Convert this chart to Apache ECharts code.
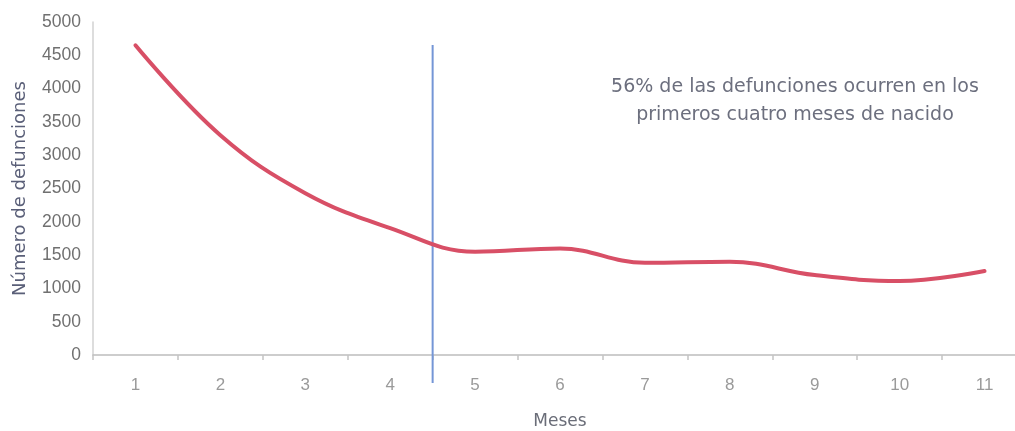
<!DOCTYPE html>
<html>
<head>
<meta charset="utf-8">
<script src="https://cdn.jsdelivr.net/npm/echarts@6/dist/echarts.min.js"></script>
<style>
  html, body { margin: 0; padding: 0; background: #ffffff; }
  #chart { width: 1015px; height: 431px; }
</style>
</head>
<body>
<div id="chart"></div>
<script>
// ---- data ----
const months = ['1', '2', '3', '4', '5', '6', '7', '8', '9', '10', '11'];
const deaths = [4650, 3300, 2430, 1905, 1550, 1600, 1385, 1400, 1200, 1110, 1260];
const yMin = 0;
const yMax = 5000;
const yStep = 500;
// divider between month 4 and 5 (x in month units, y in deaths)
const dividerX = 4.5;
const dividerFrom = 4655;
const dividerTo = -420;
const noteLines = ['56% de las defunciones ocurren en los', 'primeros cuatro meses de nacido'];
const yTitle = 'Número de defunciones';
const xTitle = 'Meses';

const FONT = '"Liberation Sans", Arial, sans-serif';
const WIDE = '"DejaVu Sans", "Liberation Sans", sans-serif';

const chart = echarts.init(document.getElementById('chart'), null, { renderer: 'canvas' });
chart.setOption({
  animation: false,
  backgroundColor: '#ffffff',
  grid: {
    left: 93, right: -12, top: 22, bottom: 76,
    containLabel: false,
    outerBoundsMode: 'none'
  },
  xAxis: [
    {
      type: 'category',
      data: months,
      boundaryGap: true,
      name: xTitle,
      nameLocation: 'middle',
      nameGap: 58,
      nameTextStyle: { color: '#6a6d78', fontSize: 17, fontFamily: WIDE },
      axisLine: { show: true, lineStyle: { color: '#bdbdbd', width: 1.5 } },
      axisTick: { show: true, length: 5, lineStyle: { color: '#c4c4c4', width: 1.5 } },
      axisLabel: { color: '#9a9a9a', fontSize: 17, fontFamily: FONT, margin: 22 },
      splitLine: { show: false }
    },
    {
      type: 'value',
      min: 0.5,
      max: months.length + 0.5,
      show: false
    }
  ],
  yAxis: {
    type: 'value',
    min: yMin,
    max: yMax,
    interval: yStep,
    name: yTitle,
    nameLocation: 'middle',
    nameRotate: 90,
    nameGap: 64,
    nameTextStyle: { color: '#5a5f78', fontSize: 18, fontFamily: WIDE },
    axisLine: { show: true, lineStyle: { color: '#d2d2d2', width: 1.5 } },
    axisTick: { show: false },
    axisLabel: {
      color: '#707070', fontSize: 17.5, fontFamily: FONT, margin: 12,
      formatter: function (v) { return String(v); }
    },
    splitLine: { show: false }
  },
  series: [
    {
      type: 'line',
      xAxisIndex: 1,
      data: [[dividerX, dividerFrom], [dividerX, dividerTo]],
      clip: false,
      symbol: 'none',
      silent: true,
      z: 1,
      lineStyle: { color: '#7496d6', width: 2 }
    },
    {
      type: 'line',
      xAxisIndex: 0,
      data: deaths,
      smooth: 0.4,
      symbol: 'none',
      z: 3,
      lineStyle: { color: '#d84f66', width: 4, cap: 'round' }
    }
  ],
  graphic: [
    {
      type: 'text',
      x: 795,
      y: 101,
      style: {
        text: noteLines.join('\n'),
        fill: '#6c6f7e',
        font: '19px ' + WIDE,
        textAlign: 'center',
        textVerticalAlign: 'middle',
        lineHeight: 28
      }
    }
  ]
});
</script>
</body>
</html>
